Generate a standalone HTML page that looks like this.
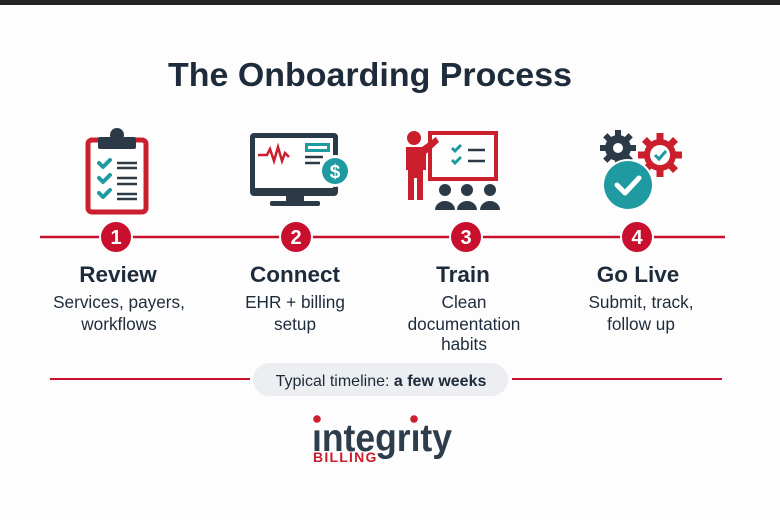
<!DOCTYPE html>
<html><head><meta charset="utf-8"><style>
html,body{margin:0;padding:0;background:#fdfdfd;}
svg{display:block;font-family:"Liberation Sans",sans-serif;}
</style></head><body>
<svg width="780" height="520" viewBox="0 0 780 520" xmlns="http://www.w3.org/2000/svg">
<rect width="780" height="520" fill="#fdfdfd"/>
<rect width="780" height="5" fill="#232323"/>
<text x="370" y="86" text-anchor="middle" font-size="33" font-weight="bold" fill="#1e2b3a" textLength="404" lengthAdjust="spacingAndGlyphs">The Onboarding Process</text>

<!-- clipboard -->
<rect x="88" y="140" width="58" height="72" rx="4" fill="none" stroke="#cc1f2e" stroke-width="5"/>
<rect x="93" y="144" width="48" height="64" fill="#fff"/>
<rect x="98" y="137" width="38" height="12" rx="2" fill="#2c3a48"/>
<circle cx="117" cy="135" r="7" fill="#2c3a48"/>
<g stroke="#1f9aa0" stroke-width="4" fill="none" stroke-linecap="round" stroke-linejoin="round">
<path d="M99 163l4 4 7-7"/><path d="M99 178l4 4 7-7"/><path d="M99 193l4 4 7-7"/></g>
<g stroke="#2c3a48" stroke-width="2.5"><path d="M117 163h20M117 168h20M117 178h20M117 184h20M117 194h20M117 199h20"/></g>

<!-- monitor -->
<rect x="250" y="133" width="88" height="63" rx="4" fill="#2c3a48"/>
<rect x="255" y="138" width="78" height="50" fill="#fff"/>
<rect x="286" y="196" width="18" height="8" fill="#2c3a48"/>
<rect x="270" y="201" width="50" height="5" rx="2" fill="#2c3a48"/>
<path d="M258 155h9l3-6 4 12 4-14 4 14 3-8 4 4" fill="none" stroke="#cc1f2e" stroke-width="2.5"/>
<rect x="305" y="143" width="25" height="9" fill="#1f9aa0"/><rect x="308" y="146" width="19" height="3" fill="#fff"/>
<path d="M305 157h18M305 163h15" stroke="#2c3a48" stroke-width="2.5"/>
<circle cx="335" cy="171" r="16" fill="#fff"/>
<circle cx="335" cy="171" r="13" fill="#1f9aa0"/>
<text x="335" y="178" text-anchor="middle" font-size="19" font-weight="bold" fill="#fff">$</text>

<!-- train -->
<rect x="430" y="133" width="66" height="46" fill="none" stroke="#cc1f2e" stroke-width="4"/>
<circle cx="414" cy="138" r="7" fill="#cc1f2e"/>
<path d="M406 147h16l14-10 3 5-13 12v16h-3v30h-6v-22h-3v22h-6v-30h-2z" fill="#cc1f2e"/>
<g stroke="#1f9aa0" stroke-width="3" fill="none"><path d="M452 148l3 3 6-6"/><path d="M452 160l3 3 6-6"/></g>
<path d="M468 150h17M468 161h17" stroke="#2c3a48" stroke-width="2.5"/>
<g fill="#2c3a48">
<circle cx="445" cy="190" r="6"/><path d="M435 210a10 9 0 0 1 20 0z"/>
<circle cx="467" cy="190" r="6"/><path d="M457 210a10 9 0 0 1 20 0z"/>
<circle cx="490" cy="190" r="6"/><path d="M480 210a10 9 0 0 1 20 0z"/></g>

<!-- gears -->
<g transform="translate(618,148)"><circle r="13" fill="#2c3a48"/>
<g fill="#2c3a48"><rect x="-3" y="-18" width="6" height="36"/><rect x="-18" y="-3" width="36" height="6"/><rect x="-3" y="-18" width="6" height="36" transform="rotate(45)"/><rect x="-3" y="-18" width="6" height="36" transform="rotate(-45)"/></g>
<circle r="5" fill="#fff"/></g>
<g transform="translate(660,155)"><circle r="16" fill="#cc1f2e"/>
<g fill="#cc1f2e"><rect x="-3.5" y="-22" width="7" height="44"/><rect x="-22" y="-3.5" width="44" height="7"/><rect x="-3.5" y="-22" width="7" height="44" transform="rotate(45)"/><rect x="-3.5" y="-22" width="7" height="44" transform="rotate(-45)"/></g>
<circle r="10" fill="#fff"/><path d="M-5 0l4 4 7-8" stroke="#1f9aa0" stroke-width="3" fill="none"/></g>
<circle cx="628" cy="185" r="26" fill="#fff"/>
<circle cx="628" cy="185" r="24" fill="#1f9aa0"/>
<path d="M617 185l8 8 14-15" stroke="#fff" stroke-width="5" fill="none" stroke-linecap="round" stroke-linejoin="round"/>

<!-- timeline -->
<line x1="40" y1="237" x2="725" y2="237" stroke="#c8102e" stroke-width="2.5"/>
<g fill="#c8102e" stroke="#fdfdfd" stroke-width="2">
<circle cx="116" cy="237" r="16"/><circle cx="296" cy="237" r="16"/><circle cx="466" cy="237" r="16"/><circle cx="637" cy="237" r="16"/></g>
<g fill="#fff" font-size="20" font-weight="bold" text-anchor="middle">
<text x="116" y="244">1</text><text x="296" y="244">2</text><text x="466" y="244">3</text><text x="637" y="244">4</text></g>
<g fill="#1e2b3a" font-size="22.5" font-weight="bold" text-anchor="middle">
<text x="118" y="282">Review</text><text x="295" y="282">Connect</text><text x="463" y="282">Train</text><text x="638" y="282">Go Live</text></g>
<g fill="#1e2b3a" font-size="17.2" text-anchor="middle">
<text x="119" y="308">Services, payers,</text><text x="119" y="330">workflows</text>
<text x="295" y="308">EHR + billing</text><text x="295" y="330">setup</text>
<text x="464" y="308">Clean</text><text x="464" y="330">documentation</text><text x="464" y="350">habits</text>
<text x="641" y="308">Submit, track,</text><text x="641" y="330">follow up</text></g>

<line x1="50" y1="379" x2="250" y2="379" stroke="#c8102e" stroke-width="2"/>
<line x1="512" y1="379" x2="722" y2="379" stroke="#c8102e" stroke-width="2"/>
<rect x="253" y="363" width="255" height="33" rx="16.5" fill="#eceef1"/>
<text x="381" y="386" text-anchor="middle" font-size="16" fill="#1e2b3a">Typical timeline: <tspan font-weight="bold">a few weeks</tspan></text>

<text x="312" y="451" font-size="39" font-weight="bold" fill="#2e3d4b" textLength="140" lengthAdjust="spacingAndGlyphs">ıntegrıty</text>
<circle cx="317" cy="419" r="3.8" fill="#cc1f2e"/><circle cx="414" cy="419" r="3.8" fill="#cc1f2e"/>
<text x="313" y="462" font-size="14" fill="#cc1f2e" letter-spacing="1.6" font-weight="bold" textLength="65">BILLING</text>
</svg>
</body></html>
